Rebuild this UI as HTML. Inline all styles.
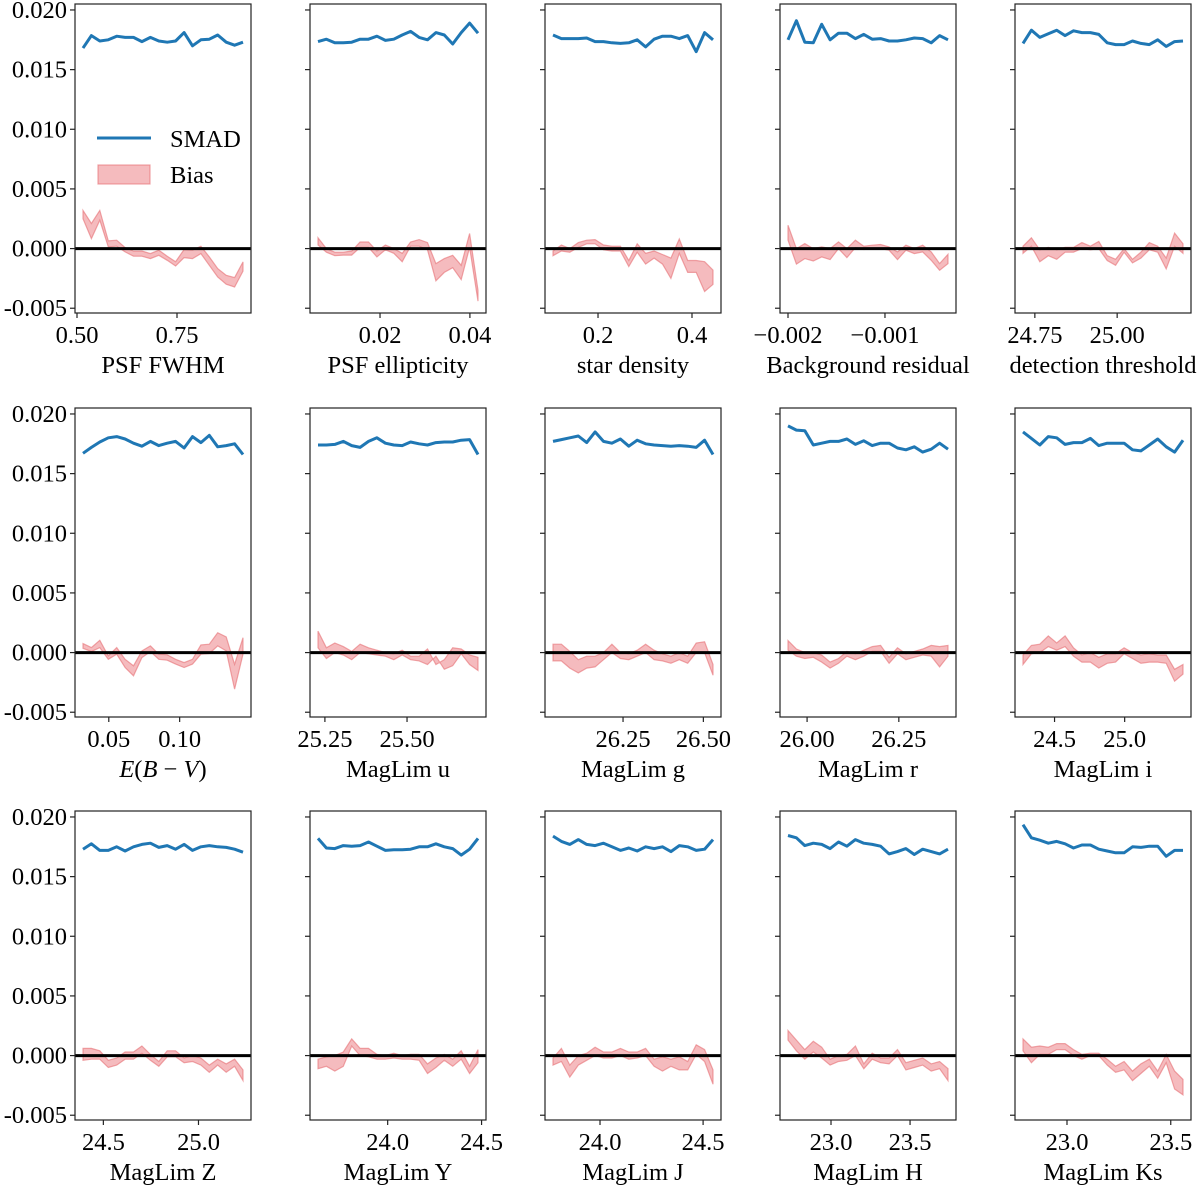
<!DOCTYPE html>
<html><head><meta charset="utf-8">
<style>
html,body{margin:0;padding:0;background:#fff;}
svg{display:block;font-family:"Liberation Serif",serif;}
</style></head>
<body>
<svg id="chart" width="1200" height="1185" viewBox="0 0 1200 1185"></svg>
<script>
// ---- data (bias & smad values in units of 1e-3) ----
const panelLabels = ["PSF FWHM","PSF ellipticity","star density","Background residual","detection threshold",
 "E(B − V)","MagLim u","MagLim g","MagLim r","MagLim i",
 "MagLim Z","MagLim Y","MagLim J","MagLim H","MagLim Ks"];
const xFirst = [0.515,0.0062,0.1042,-0.002,24.714, 0.0318,25.229,26.032,25.948,24.275, 24.393,23.629,23.772,22.728,22.788];
const xLast  = [0.915,0.0418,0.4447,-0.00035,25.2, 0.1447,25.716,26.530,26.384,25.416, 25.234,24.481,24.548,23.74,23.559];
const tickValues = [[0.50,0.75],[0.02,0.04],[0.2,0.4],[-0.002,-0.001],[24.75,25.00],
 [0.05,0.10],[25.25,25.50],[26.25,26.50],[26.00,26.25],[24.5,25.0],
 [24.5,25.0],[24.0,24.5],[24.0,24.5],[23.0,23.5],[23.0,23.5]];
const tickLabels = [["0.50","0.75"],["0.02","0.04"],["0.2","0.4"],["−0.002","−0.001"],["24.75","25.00"],
 ["0.05","0.10"],["25.25","25.50"],["26.25","26.50"],["26.00","26.25"],["24.5","25.0"],
 ["24.5","25.0"],["24.0","24.5"],["24.0","24.5"],["23.0","23.5"],["23.0","23.5"]];
const yTickValues = [0.020,0.015,0.010,0.005,0.000,-0.005];
const yTickLabels = ["0.020","0.015","0.010","0.005","0.000","-0.005"];
const smad = [
 [16.8,17.85,17.4,17.5,17.8,17.7,17.7,17.35,17.7,17.4,17.3,17.4,18.1,17.0,17.5,17.55,17.9,17.3,17.05,17.3],
 [17.35,17.55,17.25,17.25,17.3,17.55,17.55,17.8,17.45,17.55,17.9,18.2,17.7,17.5,18.1,17.9,17.15,18.1,18.9,18.05],
 [17.9,17.6,17.6,17.6,17.65,17.35,17.35,17.25,17.2,17.25,17.5,16.9,17.55,17.8,17.8,17.6,17.85,16.5,18.1,17.5],
 [17.5,19.1,17.3,17.25,18.8,17.5,18.05,18.05,17.6,17.95,17.55,17.6,17.4,17.4,17.5,17.65,17.6,17.25,17.85,17.5],
 [17.2,18.3,17.7,18.0,18.3,17.85,18.25,18.1,18.1,17.95,17.25,17.1,17.1,17.4,17.2,17.1,17.5,16.95,17.35,17.4],
 [16.7,17.2,17.65,18.0,18.1,17.9,17.55,17.3,17.7,17.35,17.55,17.7,17.15,18.1,17.6,18.2,17.25,17.35,17.5,16.6],
 [17.4,17.4,17.45,17.7,17.35,17.2,17.7,18.0,17.55,17.4,17.35,17.65,17.5,17.4,17.6,17.65,17.65,17.8,17.85,16.6],
 [17.7,17.85,18.0,18.15,17.6,18.5,17.7,17.55,17.9,17.3,17.8,17.5,17.4,17.35,17.3,17.35,17.3,17.2,17.8,16.6],
 [19.0,18.65,18.6,17.4,17.55,17.7,17.7,17.9,17.45,17.75,17.35,17.55,17.55,17.15,17.0,17.25,16.8,17.05,17.55,17.05],
 [18.5,17.95,17.4,18.1,18.0,17.45,17.6,17.6,17.95,17.35,17.55,17.55,17.55,17.0,16.9,17.4,17.9,17.25,16.8,17.8],
 [17.3,17.75,17.2,17.2,17.5,17.15,17.5,17.7,17.8,17.45,17.6,17.3,17.7,17.2,17.5,17.6,17.5,17.45,17.3,17.05],
 [18.2,17.4,17.35,17.6,17.55,17.6,17.9,17.55,17.2,17.25,17.25,17.3,17.5,17.5,17.75,17.5,17.35,16.8,17.3,18.2],
 [18.4,17.95,17.7,18.1,17.7,17.6,17.8,17.5,17.2,17.4,17.15,17.5,17.35,17.5,17.1,17.6,17.5,17.2,17.3,18.1],
 [18.45,18.25,17.6,17.8,17.7,17.35,17.9,17.55,18.1,17.8,17.7,17.55,16.9,17.1,17.35,16.85,17.3,17.1,16.9,17.3],
 [19.35,18.25,18.05,17.8,17.95,17.75,17.4,17.65,17.65,17.3,17.15,17.0,17.0,17.5,17.45,17.55,17.55,16.7,17.2,17.2]];
const biasUpper = [
 [3.2,2.1,3.2,0.64,0.7,0.08,-0.2,-0.2,-0.42,-0.14,-0.64,-1.1,-0.08,-0.14,0.2,-0.7,-1.68,-2.24,-2.43,-1.12],
 [0.9,0,-0.3,-0.3,-0.2,0.55,0.55,-0.2,0.3,0,-0.4,0.55,0.75,0.5,-1.26,-0.84,-0.56,-1.4,1.26,-3.5],
 [-0.2,0.3,0,0.5,0.7,0.75,0.3,0.2,0.2,-1.0,0.4,-0.4,-0.2,-0.5,-0.8,0.8,-1.0,-1.0,-1.1,-1.8],
 [1.96,0,0.42,0,0.14,0,0.56,0,0.7,0.2,0.28,0.34,0.14,-0.28,0.28,0,0.28,-0.28,-1.26,-0.48],
 [0.2,0.9,-0.1,0.1,-0.1,0.1,0.1,0.5,0.2,0.6,-0.6,-0.9,0.0,-0.9,-0.3,0.5,0.2,-0.8,1.3,0.4],
 [0.75,0.42,1.03,-0.28,0.42,-0.56,-1.11,0.14,0.56,-0.14,-0.19,-0.56,-0.84,-0.56,0.64,0.7,1.67,1.31,-0.98,1.25],
 [1.8,0.4,0.8,0.5,0.1,0.7,0.4,0.2,0,-0.1,0.2,-0.3,-0.3,0.3,-1.0,-0.6,0.4,0.3,-0.2,-0.4],
 [0.7,0.7,0.1,-0.6,-0.3,-0.3,0.0,0.7,0.0,-0.1,0.2,0.7,0.2,-0.1,-0.3,0.0,-0.3,0.8,0.9,-1.0],
 [1.0,0.3,0,0,-0.2,-0.8,-0.5,0.1,-0.1,0.2,0.5,0.6,-0.4,0.4,-0.1,0.1,0.3,0.6,0.5,0.6],
 [-0.2,0.6,0.7,1.4,0.8,1.4,0.4,-0.2,0.0,-0.4,-0.1,-0.1,0.4,0.0,-0.2,-0.1,-0.2,-0.2,-1.4,-1.0],
 [0.6,0.6,0.4,-0.4,-0.2,0.3,0.3,0.8,0.1,-0.5,0.4,0.4,-0.2,0,-0.2,-0.8,-0.3,-0.7,-0.3,-1.2],
 [-0.3,-0.1,0.0,0.3,1.4,0.6,0.6,0.1,0.0,0.2,0.0,0.1,0.1,-0.7,-0.2,0.1,-0.3,0.4,-0.9,0.5],
 [-0.2,0.6,-0.8,0.0,0.2,0.7,0.3,0.3,0.6,0.3,0.3,0.6,-0.3,-0.1,-0.3,-0.1,-0.5,0.9,0.5,-1.2],
 [2.1,1.3,0.5,1.2,0.7,-0.3,0.0,0.1,0.8,-0.7,0.2,-0.2,-0.2,0.5,-0.6,-0.4,-0.2,-0.7,-0.5,-1.1],
 [1.4,0.7,0.8,0.7,1.0,1.0,0.5,0.1,0.2,0.2,-0.3,-0.9,-0.5,-1.3,-0.7,-0.3,-1.3,0.1,-1.3,-2.0]];
const biasLower = [
 [2.5,0.84,2.38,0.14,0.2,-0.28,-0.64,-0.64,-0.84,-0.56,-0.98,-1.46,-0.76,-0.84,-0.42,-1.4,-2.38,-2.99,-3.22,-1.89],
 [0.3,-0.3,-0.6,-0.55,-0.55,0.1,0.1,-0.7,-0.1,-0.4,-1.1,0.2,0.2,-0.1,-2.7,-2.0,-1.6,-2.6,0.1,-4.4],
 [-0.6,-0.2,-0.3,0.1,0.4,0.4,-0.1,-0.2,-0.2,-1.5,-0.3,-1.3,-0.8,-1.3,-2.5,-0.4,-2.0,-2.0,-3.6,-3.0],
 [0.7,-1.3,-0.84,-1.04,-0.7,-0.92,0,-0.76,0.08,-0.08,0,0,-0.14,-0.92,-0.14,-0.42,-0.28,-0.98,-1.82,-1.26],
 [-0.4,0.2,-1.1,-0.6,-0.9,-0.3,-0.3,0.0,-0.1,0.0,-1.0,-1.4,-0.3,-1.2,-0.8,-0.1,-0.3,-1.7,0.2,-0.4],
 [0.36,0.08,0.42,-0.56,-0.14,-1.25,-1.95,-0.42,0.08,-0.56,-0.64,-0.97,-1.25,-0.97,-0.14,-0.08,0.56,0.14,-3.06,-0.14],
 [0.4,-0.5,0,-0.2,-0.6,0,-0.1,-0.2,-0.3,-0.6,-0.2,-0.6,-0.7,-1.0,-0.3,-1.4,-1.1,-0.1,-1.0,-1.5],
 [-0.7,-0.7,-1.3,-1.7,-1.3,-1.2,-0.6,0.0,-0.5,-0.6,-0.3,0.0,-0.6,-0.7,-0.9,-0.6,-0.9,0.0,0.0,-1.9],
 [0.2,-0.3,-0.5,-0.4,-0.8,-1.3,-0.9,-0.3,-0.6,-0.3,0.1,0.1,-0.9,-0.1,-0.6,-0.4,-0.2,-0.3,-1.2,-0.3],
 [-1.0,-0.1,0.0,0.5,0.2,0.5,-0.3,-0.8,-0.8,-1.3,-0.9,-0.8,-0.1,-0.5,-0.9,-0.8,-0.8,-0.9,-2.4,-1.8],
 [-0.4,-0.3,-0.3,-1.0,-0.8,-0.3,-0.3,0.2,-0.4,-0.9,-0.1,-0.1,-0.6,-0.5,-0.8,-1.4,-0.8,-1.4,-0.9,-2.1],
 [-1.1,-0.9,-1.3,-0.9,0.8,0.0,-0.1,-0.3,-0.3,-0.2,-0.3,-0.3,-0.4,-1.5,-1.0,-0.4,-0.9,-0.3,-1.5,-0.6],
 [-0.8,-0.5,-1.8,-0.8,-0.4,0.0,-0.2,-0.2,0.0,-0.3,-0.2,0.0,-0.9,-1.3,-0.9,-1.2,-1.2,0.1,-0.5,-2.4],
 [1.3,0.4,-0.3,0.3,-0.2,-0.8,-0.5,-0.4,0.0,-1.1,-0.3,-0.6,-0.7,0.0,-1.2,-1.0,-0.8,-1.3,-1.1,-2.1],
 [0.4,-0.6,0.1,0.1,0.5,0.5,0.0,-0.3,0.0,0.0,-0.8,-1.4,-1.2,-2.1,-1.5,-0.9,-1.9,-0.6,-2.8,-3.3]];

// ---- layout ----
const NS = "http://www.w3.org/2000/svg";
const svg = document.getElementById("chart");
const colLeft = [75,310,545,780,1015];
const rowTop = [4,408,811];
const W = 176, H = 309;
const yMin = -0.0054, yMax = 0.0205;
const FS = 24.5;
function mk(tag, attrs, parent){const e=document.createElementNS(NS,tag);for(const k in attrs)e.setAttribute(k,attrs[k]);(parent||svg).appendChild(e);return e;}
function txt(x, y, anchor, size, parent){return mk("text", {x: x.toFixed(1), y: y.toFixed(1), "text-anchor": anchor, "font-size": size}, parent);}

for (let p = 0; p < 15; p++) {
  const c = p % 5, r = Math.floor(p / 5);
  const L = colLeft[c], T = rowTop[r];
  const span = xLast[p] - xFirst[p];
  const x0 = xFirst[p] - span * 0.05, x1 = xLast[p] + span * 0.05;
  const sx = v => L + (v - x0) / (x1 - x0) * W;
  const sy = v => T + (yMax - v) / (yMax - yMin) * H;
  const g = mk("g", {});
  
  
  const cp = mk("clipPath", {id: "cp" + p}, g);
  mk("rect", {x: L, y: T, width: W, height: H}, cp);
  const n = smad[p].length;
  const xs = smad[p].map((_, i) => xFirst[p] + span * i / (n - 1));
  let d = "";
  for (let i = 0; i < n; i++) d += (i ? "L" : "M") + sx(xs[i]).toFixed(1) + "," + sy(biasUpper[p][i] / 1000).toFixed(1);
  for (let i = n - 1; i >= 0; i--) d += "L" + sx(xs[i]).toFixed(1) + "," + sy(biasLower[p][i] / 1000).toFixed(1);
  const band = mk("path", {d: d + "Z", fill: "rgba(235,120,125,0.5)", stroke: "rgba(230,110,115,0.6)", "stroke-width": 1.2, "clip-path": "url(#cp" + p + ")"}, g);
  
  
  const zl = mk("line", {x1: L, x2: L + W, y1: sy(0), y2: sy(0), stroke: "#000", "stroke-width": 3}, g);
  
  
  const pts = xs.map((x, i) => sx(x).toFixed(1) + "," + sy(smad[p][i] / 1000).toFixed(1)).join(" ");
  const sl = mk("polyline", {points: pts, fill: "none", stroke: "#1f77b4", "stroke-width": 3, "stroke-linejoin": "round", "clip-path": "url(#cp" + p + ")"}, g);
  
  
  const fr = mk("rect", {x: L, y: T, width: W, height: H, fill: "none", stroke: "#222", "stroke-width": 1.2}, g);
  
  
  yTickValues.forEach((v, i) => {
    mk("line", {x1: L - 5, x2: L, y1: sy(v), y2: sy(v), stroke: "#222", "stroke-width": 1.2}, g);
    if (c === 0) {
      const t = txt(L - 8, sy(v) + 8, "end", FS, g);
      t.textContent = yTickLabels[i];
      
      
    }
  });
  tickValues[p].forEach((v, i) => {
    mk("line", {x1: sx(v), x2: sx(v), y1: T + H, y2: T + H + 5, stroke: "#222", "stroke-width": 1.2}, g);
    const t = txt(sx(v), T + H + 30, "middle", FS, g);
    t.textContent = tickLabels[p][i];
    
    
  });
  const xt = txt(L + W / 2, T + H + 60, "middle", FS, g);
  if (p === 5) {
    xt.innerHTML = '<tspan font-style="italic">E</tspan>(<tspan font-style="italic">B</tspan> − <tspan font-style="italic">V</tspan>)';
  } else xt.textContent = panelLabels[p];
  
  
}
const lg = mk("g", {});


mk("line", {x1: 97, x2: 151, y1: 138, y2: 138, stroke: "#1f77b4", "stroke-width": 3}, lg);
const t1 = txt(170, 147, "start", FS, lg); t1.textContent = "SMAD";


mk("rect", {x: 98, y: 165, width: 52, height: 19, fill: "rgba(235,120,125,0.5)", stroke: "rgba(230,110,115,0.6)", "stroke-width": 1.2}, lg);
const t2 = txt(170, 183, "start", FS, lg); t2.textContent = "Bias";


</script>
</body></html>
